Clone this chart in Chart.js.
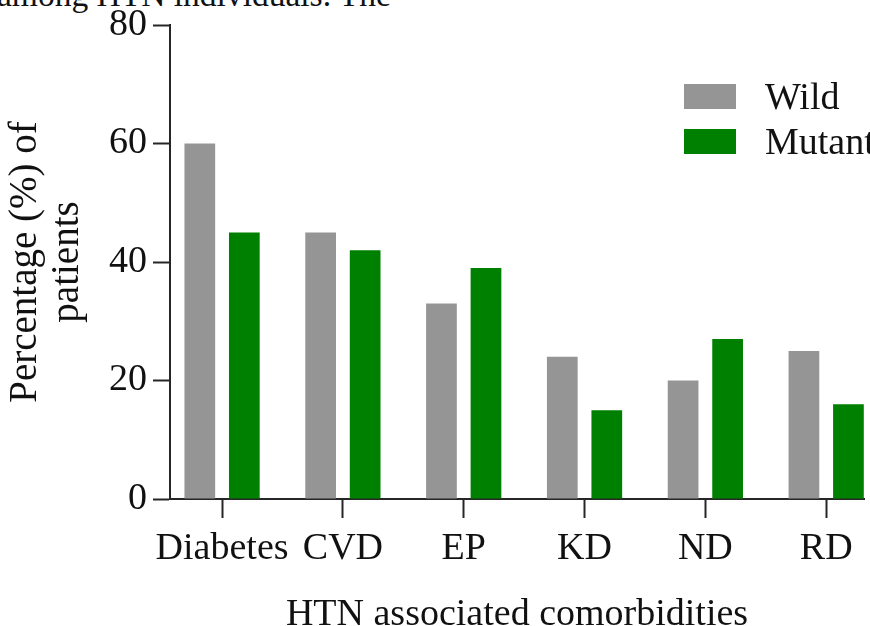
<!DOCTYPE html>
<html lang="en">
<head>
  <meta charset="UTF-8">
  <title>HTN associated comorbidities</title>
  <script src="https://cdn.jsdelivr.net/npm/chart.js"></script>
  <style>
    body { margin: 0; overflow: hidden; background: #fff; }
    .page { position: relative; width: 870px; height: 626px; overflow: hidden; font-family: "Liberation Serif", "Times New Roman", serif; }
    .caption { position: absolute; left: -3px; top: -22px; font-size: 33.5px; line-height: 33px; white-space: pre; color: #111; }
    .legend { position: absolute; left: 684px; top: 84px; }
    .legend .row { position: relative; height: 45px; }
    .legend .box { position: absolute; left: 0; top: 0; width: 52px; height: 25px; }
    .legend .txt { position: absolute; left: 81px; top: -8px; font-size: 38px; line-height: 40px; white-space: nowrap; color: #111; }
    canvas { position: absolute; left: 0; top: 0; }
  </style>
</head>
<body>
  <div class="page">
    <div class="caption">among HTN individuals. The</div>
    <canvas id="grafico" width="870" height="626"></canvas>
    <div class="legend" id="leyenda"></div>
  </div>

  <script>
    // data
    const categorias = ['Diabetes', 'CVD', 'EP', 'KD', 'ND', 'RD'];
    const wild = [60, 45, 33, 24, 20, 25];
    const mutant = [45, 42, 39, 15, 27, 16];
    const yTicks = [0, 20, 40, 60, 80];
    const series = ['Wild', 'Mutant'];
    const colores = ['#959595', '#008000'];

    const fuente = "'Liberation Serif', 'Times New Roman', serif";
    const ejeColor = '#262626';

    // legend as real text
    const leyenda = document.getElementById('leyenda');
    series.forEach(function (nombre, i) {
      let fila = document.createElement('div');
      fila.className = 'row';
      fila.innerHTML = '<div class="box" style="background:' + colores[i] + '"></div><div class="txt">' + nombre + '</div>';
      leyenda.appendChild(fila);
    });

    const ctx = document.getElementById('grafico').getContext('2d');
    new Chart(ctx, {
      type: 'bar',
      data: {
        datasets: [
          {
            label: series[0],
            data: wild.map(function (v, i) { return { x: i, y: v }; }),
            backgroundColor: colores[0],
            borderWidth: 0
          },
          {
            label: series[1],
            data: mutant.map(function (v, i) { return { x: i, y: v }; }),
            backgroundColor: colores[1],
            borderWidth: 0
          }
        ]
      },
      options: {
        responsive: false,
        animation: false,
        categoryPercentage: 0.737,
        barPercentage: 0.69,
        layout: { padding: { top: 25, right: 6, left: 0, bottom: 0 } },
        plugins: {
          legend: { display: false },
          tooltip: { enabled: false }
        },
        scales: {
          x: {
            type: 'linear',
            offset: false,
            min: -0.431,
            max: 5.313,
            afterFit: function (scale) { scale.height = 127; },
            grid: {
              offset: false,
              drawOnChartArea: false,
              drawTicks: true,
              tickLength: 19,
              tickWidth: 2,
              tickColor: ejeColor
            },
            border: { color: ejeColor, width: 2 },
            ticks: {
              stepSize: 1,
              includeBounds: false,
              autoSkip: false,
              maxRotation: 0,
              minRotation: 0,
              padding: 8,
              color: '#111',
              font: { family: fuente, size: 38 },
              callback: function (v) {
                return Number.isInteger(v) ? categorias[v] : '';
              }
            },
            title: {
              display: true,
              text: 'HTN associated comorbidities',
              color: '#111',
              font: { family: fuente, size: 38, lineHeight: 1 },
              padding: { top: 0, bottom: -8 }
            }
          },
          y: {
            min: 0,
            max: 80,
            afterFit: function (scale) { scale.width = 170; },
            afterBuildTicks: function (scale) {
              scale.ticks = yTicks.map(function (v) { return { value: v }; });
            },
            grid: {
              drawOnChartArea: false,
              drawTicks: true,
              tickLength: 17,
              tickWidth: 2,
              tickColor: ejeColor
            },
            border: { color: ejeColor, width: 2 },
            ticks: {
              padding: 6,
              color: '#111',
              font: { family: fuente, size: 38, lineHeight: 1 }
            },
            title: {
              display: true,
              text: ['Percentage (%) of', 'patients'],
              color: '#111',
              font: { family: fuente, size: 39, lineHeight: 1.08 },
              padding: { top: 5, bottom: 0 }
            }
          }
        }
      }
    });
  </script>
</body>
</html>
